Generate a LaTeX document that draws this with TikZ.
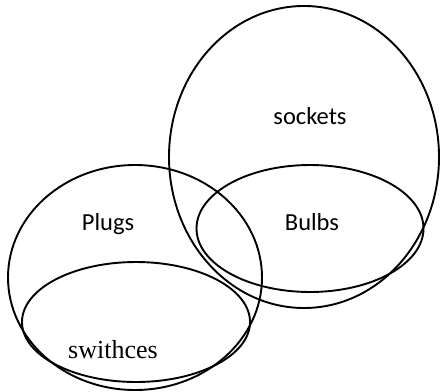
\documentclass[tikz,border=0pt]{standalone}
\usepackage{fontspec}
\newfontfamily\calfont{Carlito}
\newfontfamily\timesfont{Liberation Serif}
\begin{document}
\begin{tikzpicture}[x=1pt,y=-1pt,
  setline/.style={line width=1.9pt,black},
  callabel/.style={anchor=base,inner sep=0pt,font=\calfont\fontsize{24.5}{28}\selectfont},
  timeslabel/.style={anchor=base,inner sep=0pt,font=\timesfont\fontsize{26}{30}\selectfont}]
\useasboundingbox[fill=white] (0,0) rectangle (443,391);
% sets
\draw[setline] (304,157) ellipse [x radius=135pt, y radius=151pt];
\draw[setline] (310,228.5) ellipse [x radius=113.5pt, y radius=63.5pt];
\draw[setline] (135,277.5) ellipse [x radius=127pt, y radius=112.5pt];
\draw[setline] (136,322) ellipse [x radius=114pt, y radius=60pt];
% labels
\node[callabel] (sockets) at (310,124) {sockets};
\node[callabel] (bulbs) at (312,230) {Bulbs};
\node[callabel] (plugs) at (108,230) {Plugs};
\node[timeslabel] (switches) at (113,358) {swithces};
\end{tikzpicture}
\end{document}
